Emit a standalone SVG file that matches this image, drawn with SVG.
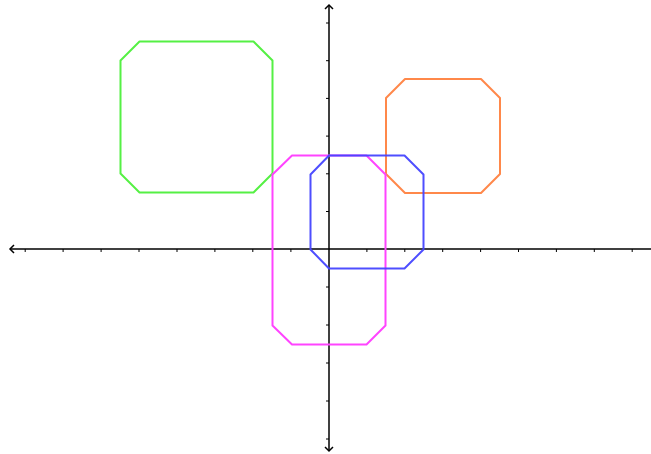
<svg xmlns="http://www.w3.org/2000/svg" width="651" height="454" viewBox="0 0 651 454">
<style>
.ax{stroke:#000;stroke-width:1.5;fill:none}
.tk{stroke:#000;stroke-width:1;fill:none}
.sh{fill:none;stroke-width:2;stroke-linejoin:round}
</style>
<rect width="651" height="454" fill="#fff"/>
<g id="connectors">
<line class="ax" x1="10" y1="249" x2="651" y2="249"/>
<path class="ax" d="M14,245 L10,249 L14,253"/>
<line class="ax" x1="329" y1="5" x2="329" y2="451"/>
<path class="ax" d="M325,9 L329,5 L333,9"/>
<path class="ax" d="M325,447 L329,451 L333,447"/>
<path class="tk" d="M25.2,249v3 M63.1,249v3 M101.1,249v3 M139,249v3 M177,249v3 M214.9,249v3 M252.8,249v3 M290.9,249v3 M366.9,249v3 M404.8,249v3 M442.7,249v3 M480.6,249v3 M518.5,249v3 M556.4,249v3 M594.3,249v3 M632.2,249v3"/>
<path class="tk" d="M329,23h-3 M329,60.7h-3 M329,98.4h-3 M329,136.1h-3 M329,173.8h-3 M329,211.5h-3 M329,287h-3 M329,325h-3 M329,363h-3 M329,401h-3 M329,439h-3"/>
</g>
<g id="green"><polygon class="sh" stroke="#55f044" points="139.5,41.5 253.5,41.5 272.5,60.5 272.5,173.5 253.5,192.5 139.5,192.5 120.5,173.5 120.5,60.5"/></g>
<g id="orange"><polygon class="sh" stroke="#ff884a" points="405,79 481,79 500,98 500,174 481,193 405,193 386,174 386,98"/></g>
<g id="magenta"><polygon class="sh" stroke="#ff44ff" points="292,155.5 366.5,155.5 385.5,174.5 385.5,325.5 366.5,344.5 292,344.5 272.5,325.5 272.5,174.5"/></g>
<g id="blue"><polygon class="sh" stroke="#4444ff" stroke-opacity="0.95" points="329,155.5 404.5,155.5 423.5,174.5 423.5,249.5 404.5,268.5 329,268.5 310.5,249.5 310.5,174.5"/></g>
</svg>
